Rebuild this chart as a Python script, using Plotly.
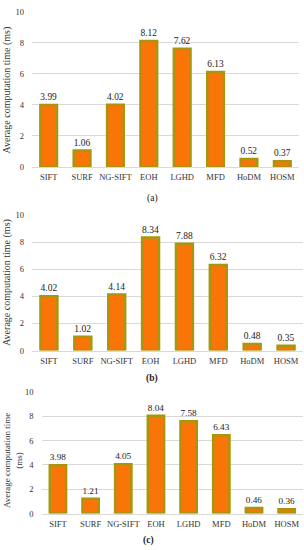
import plotly.graph_objects as go

categories = ["SIFT", "SURF", "NG-SIFT", "EOH", "LGHD", "MFD", "HoDM", "HOSM"]
values_a = [3.99, 1.06, 4.02, 8.12, 7.62, 6.13, 0.52, 0.37]
values_b = [4.02, 1.02, 4.14, 8.34, 7.88, 6.32, 0.48, 0.35]
values_c = [3.98, 1.21, 4.05, 8.04, 7.58, 6.43, 0.46, 0.36]
panel_labels = ["(a)", "<b>(b)</b>", "<b>(c)</b>"]
y_ticks = [0, 2, 4, 6, 8, 10]

W, H = 304, 550
FONT = "Liberation Serif, Times New Roman, serif"
ORANGE = "#FA7508"
OLIVE = "#A8960F"

def py(p):
    return 1 - p / H

def px(p):
    return p / W

panels = [
    # values, x-domain px, y0 px, y10 px
    (values_a, (32, 299), 165, 7),
    (values_b, (32, 303), 352, 214),
    (values_c, (41.6, 303), 518, 394),
]

fig = go.Figure()
layout = dict(
    width=W, height=H,
    margin=dict(l=0, r=0, t=0, b=0),
    paper_bgcolor="white", plot_bgcolor="white",
    showlegend=False,
    font=dict(family=FONT, size=9, color="#333333"),
)
for i, (vals, (xl, xr), y0, y10) in enumerate(panels):
    n = "" if i == 0 else str(i + 1)
    fig.add_trace(go.Bar(
        x=categories, y=vals,
        xaxis="x" + n, yaxis="y" + n,
        marker=dict(color=ORANGE, line=dict(color=OLIVE, width=2.5)),
        text=[f"{v:.2f}" for v in vals], textposition="outside",
        textfont=dict(family=FONT, size=9.5, color="#1a1a1a"),
        cliponaxis=False, width=0.5,
    ))
    layout["xaxis" + n] = dict(
        domain=[px(xl), px(xr)], anchor="y" + n,
        showgrid=False, showline=True, linecolor="#d9d9d9", linewidth=1,
        ticks="", tickangle=0,
        tickfont=dict(family=FONT, size=8.5, color="#333333"),
        ticklabelstandoff=2,
    )
    layout["yaxis" + n] = dict(
        domain=[py(y0), py(y10)], anchor="x" + n,
        range=[0, 10], tickvals=y_ticks,
        showgrid=True, gridcolor="#d9d9d9", gridwidth=1,
        zeroline=False, showline=False, ticks="",
        tickfont=dict(family=FONT, size=8.5, color="#333333"),
        ticklabelstandoff=7,
    )

fig.update_layout(**layout)

# y-axis titles
title_kw = dict(xref="paper", yref="paper", textangle=-90, showarrow=False,
                xanchor="center", yanchor="middle",
                font=dict(family=FONT, size=10, color="#333333"))
fig.add_annotation(text="Average computation time (ms)", x=px(7), y=py(87), **title_kw)
fig.add_annotation(text="Average computation time (ms)", x=px(7), y=py(283), **title_kw)
fig.add_annotation(text="Average computation time<br>(ms)",
                   x=px(12.5), y=py(464), **{**title_kw, "font": dict(family=FONT, size=9, color="#333333")})

# panel labels
for lab, (xc, yc) in zip(panel_labels, [(152, 197), (152, 380), (148, 545)]):
    fig.add_annotation(text=lab, x=px(xc), y=py(yc), xref="paper", yref="paper",
                       xanchor="center", yanchor="middle", showarrow=False,
                       font=dict(family=FONT, size=9.5, color="#222222"))

fig.write_html("out.html", config={"displayModeBar": False},
               post_script="document.body.style.margin='0';")
